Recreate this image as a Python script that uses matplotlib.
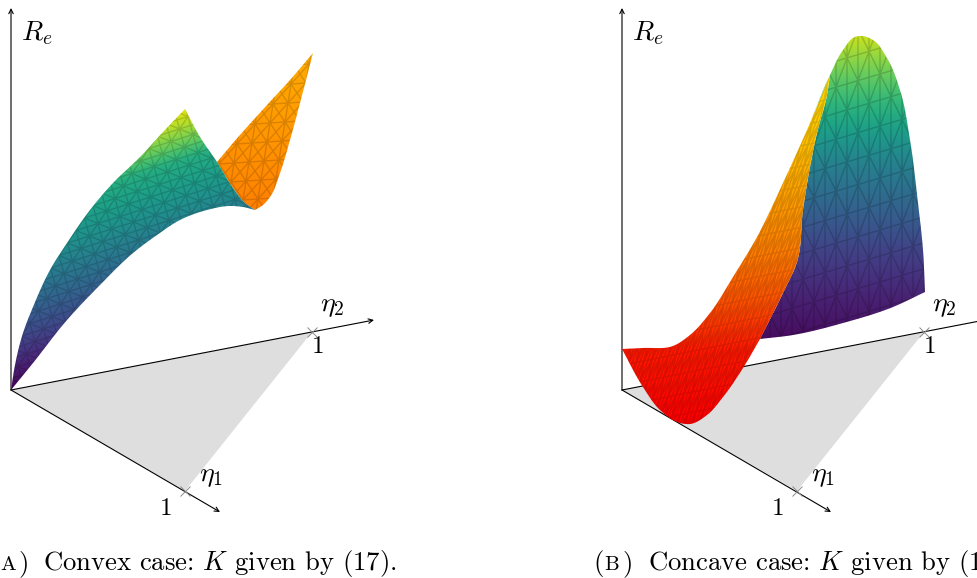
import numpy as np
import matplotlib as mpl
mpl.use('Agg')
import matplotlib.pyplot as plt
from matplotlib.patches import Polygon, PathPatch
from matplotlib.path import Path

plt.rcParams['mathtext.fontset'] = 'cm'
plt.rcParams['font.family'] = 'cmr10'
plt.rcParams['axes.formatter.use_mathtext'] = True

# everything is read off the picture, in picture pixels
# panel a
a_origin = (11, 390)
a_e1 = (185, 491)
a_e2 = (312, 332)
a_z_tip = (11, 8)
a_e1_tip = (220, 512)
a_e2_tip = (374, 320)

a_upper = [(11, 390), (15, 365), (23, 333), (33, 307), (50, 270), (67, 243), (90, 210),
           (113, 183), (140, 157), (163, 132), (185, 109)]
a_lower = [(11, 390), (33, 363), (67, 320), (100, 285), (133, 253), (157, 235), (180, 220),
           (207, 210), (230, 206), (243, 207), (255, 210)]
a_fold = [(185, 109), (200, 137), (217, 162), (233, 188), (245, 203), (255, 210)]
a_warm_top = [(217, 162), (233, 143), (267, 105), (290, 80), (313, 53)]
a_warm_right = [(313, 53), (300, 103), (290, 140), (280, 173), (270, 197), (263, 205), (255, 210)]

# panel b
b_origin = (622, 390)
b_e1 = (797, 491)
b_e2 = (924, 332)
b_z_tip = (622, 8)
b_e1_tip = (831, 512)
b_e2_tip = (985, 320)

b_left = [(622, 349), (643, 348), (673, 346), (690, 335), (710, 313), (733, 277), (757, 237),
          (783, 183), (810, 123), (830, 75)]
b_crest = [(810, 123), (830, 75), (843, 50), (855, 37), (862, 36), (873, 40), (887, 58), (900, 90),
           (910, 140), (918, 203), (923, 250), (925, 292)]
b_bottom = [(925, 292), (893, 307), (843, 323), (793, 335), (760, 339)]
b_divider = [(760, 339), (783, 293), (797, 262), (803, 210), (810, 167), (817, 133), (827, 95), (830, 75)]
b_belly = [(622, 349), (643, 387), (660, 410), (680, 423), (690, 424), (707, 415), (723, 397),
           (743, 368), (760, 339)]

# colour stops: height in pixels -> colormap value
a_cool_h = [0, 52, 129, 173, 190, 208, 224]
a_cool_val = [0.0, 0.22, 0.5, 0.62, 0.76, 0.88, 0.96]
a_warm_y = [210, 53]
a_warm_val = [0.5, 0.68]
b_cool_y = [339, 300, 250, 170, 100, 36]
b_cool_val = [0.03, 0.09, 0.2, 0.42, 0.67, 0.92]
b_warm_y = [424, 350, 300, 250, 150, 75]
b_warm_val = [0.0, 0.1, 0.33, 0.5, 0.74, 0.87]

captions = [(0, 'A'), (18, ')'), (43, 'Convex case: $K$ given by (17).'),
            (593, '('), (604, 'B'), (622, ')'), (648, 'Concave case: $K$ given by (17).')]


def resample(curve, per_seg=12):
    # cubic hermite through the read points so the rims do not look polygonal
    c = np.array(curve, float)
    s = np.r_[0, np.cumsum(np.hypot(*np.diff(c, axis=0).T))]
    m = np.gradient(c, s, axis=0)
    out = []
    for i in range(len(c) - 1):
        h = s[i + 1] - s[i]
        t = np.linspace(0, 1, per_seg, endpoint=False)[:, None]
        out.append((2 * t**3 - 3 * t**2 + 1) * c[i] + (t**3 - 2 * t**2 + t) * h * m[i]
                   + (-2 * t**3 + 3 * t**2) * c[i + 1] + (t**3 - t**2) * h * m[i + 1])
    out.append(c[-1:])
    return np.vstack(out)


def curve(*parts):
    return np.vstack([resample(p) for p in parts])


def fill(ax, outline, colour_fn, cmap, z):
    x0, y0 = outline.min(axis=0) - 2
    x1, y1 = outline.max(axis=0) + 2
    gx, gy = np.meshgrid(np.arange(x0, x1, 0.5), np.arange(y0, y1, 0.5))
    poly = Polygon(outline, closed=True, transform=ax.transData, fc='none', ec='none')
    ax.add_patch(poly)
    im = ax.imshow(colour_fn(gx, gy), extent=(x0, x1, y1, y0), cmap=cmap, vmin=0, vmax=1,
                   interpolation='bilinear', aspect='auto', zorder=z)
    im.set_clip_path(poly)
    return poly


def lattice(ax, outline, poly, v1, v2, z, alpha=0.15, lw=1.0):
    # regular triangle wires, clipped to the sheet. one compound path so
    # the crossings do not get darker
    v1, v2 = np.array(v1, float), np.array(v2, float)
    m = np.linalg.inv(np.c_[v1, v2])
    ij = (outline @ m.T)
    i0, j0 = np.floor(ij.min(axis=0)).astype(int) - 1
    i1, j1 = np.ceil(ij.max(axis=0)).astype(int) + 1
    verts, codes = [], []
    for i in range(i0, i1):
        for j in range(j0, j1):
            p = i * v1 + j * v2
            pairs = [(p, p + v1), (p, p + v2)]
            if (i + j) % 2:
                pairs.append((p, p + v1 + v2))
            else:
                pairs.append((p + v1, p + v2))
            for a, b in pairs:
                verts += [a, b]
                codes += [Path.MOVETO, Path.LINETO]
    wires = PathPatch(Path(np.array(verts), codes), fc='none', ec='k', lw=lw, alpha=alpha, zorder=z)
    ax.add_patch(wires)
    wires.set_clip_path(poly)


def frame(ax, o, e1, e2, ztip, e1tip, e2tip):
    ax.add_patch(Polygon([o, e1, e2], closed=True, fc='#dedede', ec='none', zorder=1))
    for tip in (ztip, e1tip, e2tip):
        ax.annotate('', xy=tip, xytext=o, zorder=2, annotation_clip=False,
                    arrowprops=dict(arrowstyle='->', lw=0.8, color='k', shrinkA=0, shrinkB=0,
                                    mutation_scale=8))
    ax.plot([e1[0], e2[0]], [e1[1], e2[1]], ls='none', marker='x', ms=7, mew=0.7, color='#8a8a8a', zorder=3)
    ax.text(o[0] + 10, 33, '$R_e$', fontsize=20, va='center', ha='left', zorder=6)
    ax.text(e2[0] + 8, 306, r'$\eta_2$', fontsize=20, va='center', ha='left', zorder=6)
    ax.text(e1[0] + 14, 476, r'$\eta_1$', fontsize=20, va='center', ha='left', zorder=6)
    ax.text(e2[0] + 6, 347, '1', fontsize=18, va='center', ha='center', zorder=6)
    ax.text(e1[0] - 19, 509, '1', fontsize=18, va='center', ha='center', zorder=6)


fig = plt.figure(figsize=(9.77, 5.78), dpi=100)
ax = fig.add_axes([0, 0, 1, 1])
ax.set_axis_off()

frame(ax, a_origin, a_e1, a_e2, a_z_tip, a_e1_tip, a_e2_tip)
frame(ax, b_origin, b_e1, b_e2, b_z_tip, b_e1_tip, b_e2_tip)

# panel a, warm sheet behind the green one
outline = curve(a_warm_top, a_warm_right, a_fold[2:][::-1])
p = fill(ax, outline, lambda x, y: np.interp(-y, -np.array(a_warm_y), a_warm_val), 'autumn', 3)
lattice(ax, outline, p, (9, -10), (6, 9), 3.1)

outline = curve(a_upper, a_fold, a_lower[::-1])
p = fill(ax, outline, lambda x, y: np.interp(390 - y - 0.33 * (x - 11), a_cool_h, a_cool_val), 'viridis', 4)
lattice(ax, outline, p, (11, -3.5), (2.5, 9), 4.1)

# panel b, cool sheet behind the warm one
outline = curve(b_crest, b_bottom, b_divider)
p = fill(ax, outline, lambda x, y: np.interp(-y, -np.array(b_cool_y), b_cool_val), 'viridis', 3)
lattice(ax, outline, p, (11, -3.3), (0, 26), 3.1, 0.17)

outline = curve(b_left, b_divider[::-1], b_belly[::-1])
p = fill(ax, outline, lambda x, y: np.interp(-y, -np.array(b_warm_y), b_warm_val), 'autumn', 4)
lattice(ax, outline, p, (4, -0.8), (8, -22), 4.1, 0.14)

for x, s in captions:
    fs = 15 if s in ('A', 'B') else 19.2
    ax.text(x, 570, s, fontsize=fs, va='baseline', ha='left', zorder=6)

ax.set_xlim(0, 977)
ax.set_ylim(578, 0)
fig.savefig('out.png', dpi=100)
